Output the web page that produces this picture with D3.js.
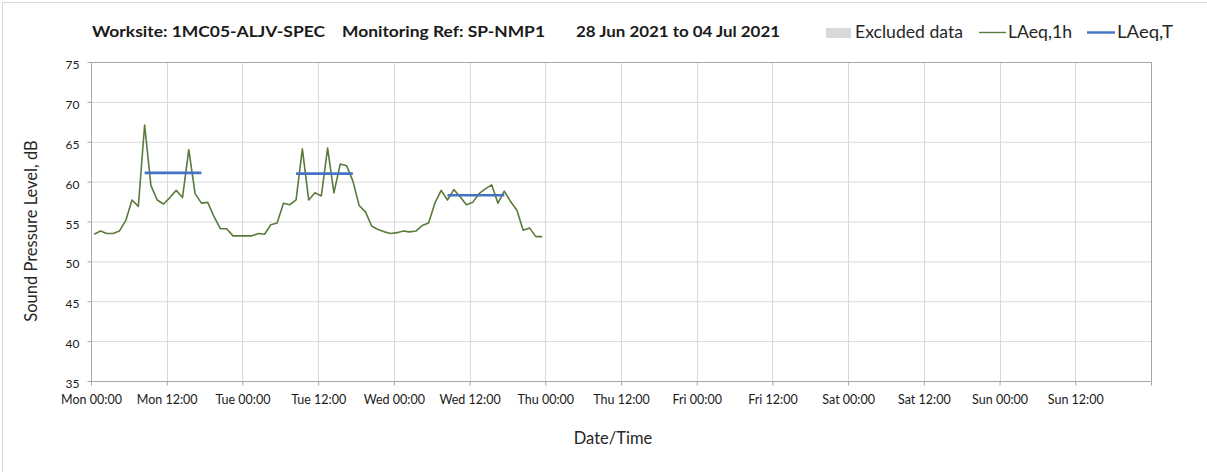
<!DOCTYPE html>
<html>
<head>
<meta charset="utf-8">
<script src="https://cdn.jsdelivr.net/npm/d3@7"></script>
<style>
  html, body { margin: 0; padding: 0; background: #ffffff; }
  svg { display: block; font-family: Lato, "Open Sans", sans-serif; }
</style>
</head>
<body>
<svg id="chart" width="1207" height="472"></svg>
<script>
// ---- data ----
const seriesStart = "2021-06-28T00:30:00";   // first hourly LAeq,1h point (plotted at mid-hour)
const laeq1h = [
  // Mon
  53.4, 53.8, 53.5, 53.5, 53.8, 55.1, 57.7, 56.9, 67.1, 59.5, 57.7, 57.2,
  58.0, 58.9, 58.0, 64.0, 58.5, 57.3, 57.4, 55.6, 54.1, 54.1, 53.2, 53.2,
  // Tue
  53.2, 53.2, 53.5, 53.4, 54.6, 54.8, 57.3, 57.1, 57.7, 64.1, 57.7, 58.6,
  58.2, 64.2, 58.6, 62.2, 62.0, 60.1, 57.0, 56.2, 54.4, 54.0, 53.7, 53.5,
  // Wed
  53.6, 53.8, 53.7, 53.8, 54.5, 54.8, 57.3, 58.9, 57.7, 59.0, 58.1, 57.1,
  57.4, 58.5, 59.1, 59.6, 57.3, 58.8, 57.5, 56.4, 53.9, 54.2, 53.1, 53.1
];
const laeqTStart = ["2021-06-28T08:30:00", "2021-06-29T08:30:00", "2021-06-30T08:30:00"];
const laeqTEnd   = ["2021-06-28T17:30:00", "2021-06-29T17:30:00", "2021-06-30T17:30:00"];
const laeqTValue = [61.1, 61.0, 58.3];

const xDomain = ["2021-06-28T00:00:00", "2021-07-05T00:00:00"];
const xTickLabels = ["Mon 00:00", "Mon 12:00", "Tue 00:00", "Tue 12:00", "Wed 00:00", "Wed 12:00",
  "Thu 00:00", "Thu 12:00", "Fri 00:00", "Fri 12:00", "Sat 00:00", "Sat 12:00",
  "Sun 00:00", "Sun 12:00"];
const yTicks = [35, 40, 45, 50, 55, 60, 65, 70, 75];

const titleParts = ["Worksite: 1MC05-ALJV-SPEC", "Monitoring Ref: SP-NMP1", "28 Jun 2021 to 04 Jul 2021"];
const legendLabels = ["Excluded data", "LAeq,1h", "LAeq,T"];

// ---- layout ----
const svg = d3.select("#chart");
const L = 91, R = 1151, T = 62, B = 381;
const parse = d3.isoParse;
const t0 = parse(seriesStart);
const pts = laeq1h.map((v, i) => ({ t: d3.timeHour.offset(t0, i), v }));

const x = d3.scaleTime().domain(xDomain.map(parse)).range([L, R]);
const y = d3.scaleLinear().domain([35, 75]).range([B, T]);

const tickDates = d3.timeHour.every(12).range(parse(xDomain[0]), parse(xDomain[1]));

// outer frame
svg.append("rect").attr("x", 2.5).attr("y", 2.5).attr("width", 1210).attr("height", 480)
  .attr("fill", "none").attr("stroke", "#d9d9d9");

// gridlines
const grid = svg.append("g");
grid.selectAll("line.h").data(yTicks.filter(d => d > 35 && d < 75)).join("line")
  .attr("x1", L).attr("x2", R).attr("y1", d => y(d) + 0.5).attr("y2", d => y(d) + 0.5)
  .attr("stroke", "#d9d9d9").attr("stroke-width", 1);
grid.selectAll("line.v").data(tickDates.slice(1)).join("line")
  .attr("x1", d => Math.round(x(d)) + 0.5).attr("x2", d => Math.round(x(d)) + 0.5)
  .attr("y1", T).attr("y2", B)
  .attr("stroke", "#d9d9d9").attr("stroke-width", 1);

// plot border top/right
svg.append("line").attr("x1", L).attr("x2", R + 0.5).attr("y1", T + 0.5).attr("y2", T + 0.5)
  .attr("stroke", "#a6a6a6");
svg.append("line").attr("x1", R + 0.5).attr("x2", R + 0.5).attr("y1", T).attr("y2", B)
  .attr("stroke", "#a6a6a6");

// axes
const xAxis = d3.axisBottom(x).tickValues(tickDates.concat([parse(xDomain[1])]))
  .tickSize(4).tickFormat((d, i) => xTickLabels[i] || "");
const gx = svg.append("g").attr("transform", `translate(0,${B + 0.5})`).call(xAxis);
gx.select(".domain").attr("stroke", "#a6a6a6").attr("d", `M${L},0H${R + 0.5}`);
gx.selectAll(".tick line").attr("stroke", "#a6a6a6");
gx.selectAll(".tick text").attr("fill", "#1a1a1a").attr("font-size", 12.5)
  .attr("font-family", "Lato, sans-serif").attr("y", 13.5);

const yAxis = d3.axisLeft(y).tickValues(yTicks).tickSize(4).tickFormat(d3.format("d"));
const gy = svg.append("g").attr("transform", `translate(${L + 0.5},0)`).call(yAxis);
gy.select(".domain").attr("stroke", "#a6a6a6").attr("d", `M0,${T}V${B}`);
gy.selectAll(".tick line").attr("stroke", "#a6a6a6");
gy.selectAll(".tick text").attr("fill", "#1a1a1a").attr("font-size", 12)
  .attr("font-family", "Lato, sans-serif").attr("x", -12).attr("dy", "0.55em");

// LAeq,1h line
svg.append("path").datum(pts)
  .attr("fill", "none").attr("stroke", "#5a7b3b").attr("stroke-width", 1.6)
  .attr("stroke-linejoin", "round")
  .attr("d", d3.line().x(d => x(d.t)).y(d => y(d.v)));

// LAeq,T segments
svg.append("g").selectAll("line").data(laeqTValue).join("line")
  .attr("x1", (d, i) => x(parse(laeqTStart[i])))
  .attr("x2", (d, i) => x(parse(laeqTEnd[i])))
  .attr("y1", d => y(d)).attr("y2", d => y(d))
  .attr("stroke", "#4472c4").attr("stroke-width", 2.6);

// axis titles
svg.append("text").attr("x", 613).attr("y", 444).attr("text-anchor", "middle")
  .attr("font-size", 16.5).attr("fill", "#262626").text("Date/Time");
svg.append("text").attr("transform", "translate(37,231) rotate(-90)").attr("text-anchor", "middle")
  .attr("font-size", 16.5).attr("fill", "#262626").text("Sound Pressure Level, dB");

// title
const titleX = [92, 342, 576];
const titleW = [233, 203, 204];
svg.append("g").selectAll("text").data(titleParts).join("text")
  .attr("x", (d, i) => titleX[i]).attr("y", 37)
  .attr("font-size", 16).attr("font-weight", "bold").attr("fill", "#1a1a1a")
  .attr("textLength", (d, i) => titleW[i]).attr("lengthAdjust", "spacingAndGlyphs")
  .text(d => d);

// legend
const lg = svg.append("g");
lg.append("rect").attr("x", 826).attr("y", 28).attr("width", 25).attr("height", 10).attr("fill", "#d9d9d9");
lg.append("text").attr("x", 855).attr("y", 38).attr("font-size", 17).attr("fill", "#262626")
  .attr("textLength", 108).attr("lengthAdjust", "spacingAndGlyphs").text(legendLabels[0]);
lg.append("line").attr("x1", 979).attr("x2", 1006).attr("y1", 32.5).attr("y2", 32.5)
  .attr("stroke", "#5a7b3b").attr("stroke-width", 1.4);
lg.append("text").attr("x", 1008).attr("y", 38).attr("font-size", 17).attr("fill", "#262626")
  .attr("textLength", 64).attr("lengthAdjust", "spacingAndGlyphs").text(legendLabels[1]);
lg.append("line").attr("x1", 1087).attr("x2", 1115).attr("y1", 32.5).attr("y2", 32.5)
  .attr("stroke", "#4472c4").attr("stroke-width", 2.4);
lg.append("text").attr("x", 1117).attr("y", 38).attr("font-size", 17).attr("fill", "#262626")
  .attr("textLength", 56).attr("lengthAdjust", "spacingAndGlyphs").text(legendLabels[2]);
</script>
</body>
</html>
